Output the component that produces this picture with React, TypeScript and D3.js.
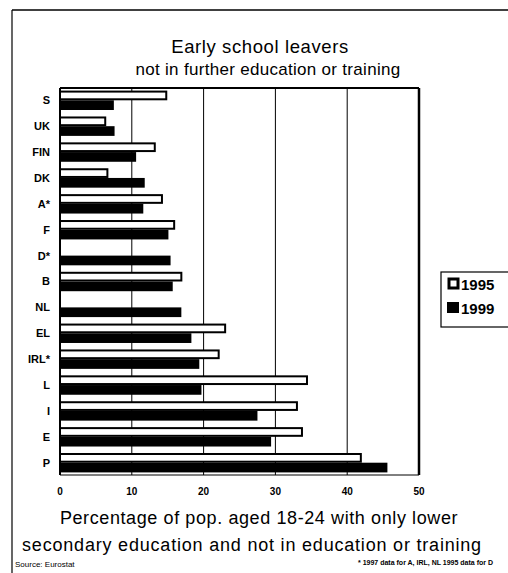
import React from 'react';
import * as d3 from 'd3';

// data (top to bottom)
const categories = ['S', 'UK', 'FIN', 'DK', 'A*', 'F', 'D*', 'B', 'NL', 'EL', 'IRL*', 'L', 'I', 'E', 'P'];
const values1995 = [14.8, 6.3, 13.2, 6.6, 14.2, 15.9, null, 16.9, null, 23.0, 22.1, 34.4, 33.0, 33.7, 41.9];
const values1999 = [7.5, 7.6, 10.6, 11.8, 11.6, 15.1, 15.4, 15.7, 16.9, 18.3, 19.4, 19.7, 27.5, 29.4, 45.6];
const series = ['1995', '1999'];
const xTicks = [0, 10, 20, 30, 40, 50];

const font = '"Liberation Sans", Arial, sans-serif';

const App = () => {
    const left = 60;
    const right = 419;
    const top = 88;
    const bottom = 475;

    const x = d3.scaleLinear().domain([0, 50]).range([left, right]);
    const y = d3.scaleBand<string>()
        .domain(categories)
        .range([top, bottom])
        .paddingInner(0.25)
        .paddingOuter(0.1);
    const ySub = d3.scaleBand<string>()
        .domain(series)
        .range([0, y.bandwidth()]);

    const rows = categories.map((c, i) => ({ c, v: [values1995[i], values1999[i]] }));

    return (
        <svg width={508} height={573} style={{ position: 'absolute', left: 0, top: 0, background: '#fff' }}
            fontFamily={font}>
            {/* outer page frame */}
            <line x1={12} y1={10} x2={508} y2={10} stroke="#000" strokeWidth={1.5} />
            <line x1={12} y1={10} x2={12} y2={573} stroke="#000" strokeWidth={1.2} />

            <text x={260} y={53} textAnchor="middle" fontSize={18.5} letterSpacing={0.6}>Early school leavers</text>
            <text x={268} y={75} textAnchor="middle" fontSize={17} letterSpacing={0.3}>not in further education or training</text>

            {/* gridlines */}
            {xTicks.slice(1, -1).map(t => (
                <line key={t} x1={x(t)} x2={x(t)} y1={top} y2={bottom} stroke="#000" strokeWidth={1} />
            ))}

            {/* bars */}
            {rows.map(r => (
                <g key={r.c} transform={`translate(0,${y(r.c)})`}>
                    {r.v.map((v, j) => v == null ? null : (
                        j === 0 ? (
                            <rect key={j} x={x(0)} y={ySub(series[j])! + 1} width={x(v) - x(0)}
                                height={ySub.bandwidth() - 2} fill="#fff" stroke="#000" strokeWidth={2} />
                        ) : (
                            <rect key={j} x={x(0)} y={ySub(series[j])!} width={x(v) - x(0)}
                                height={ySub.bandwidth()} fill="#000" />
                        )
                    ))}
                    <text x={50} y={y.bandwidth() / 2 + 4} textAnchor="end" fontSize={11} fontWeight="bold">{r.c}</text>
                </g>
            ))}

            {/* plot frame */}
            <line x1={left} x2={right} y1={top} y2={top} stroke="#000" strokeWidth={2} />
            <line x1={right} x2={right} y1={top} y2={bottom} stroke="#000" strokeWidth={2.5} />
            <line x1={left} x2={right} y1={bottom} y2={bottom} stroke="#000" strokeWidth={1} />
            <line x1={left} x2={left} y1={top} y2={bottom} stroke="#000" strokeWidth={2} />

            {xTicks.map(t => (
                <text key={t} x={x(t)} y={495} textAnchor="middle" fontSize={10} fontWeight="bold">{t}</text>
            ))}

            <text x={259} y={524} textAnchor="middle" fontSize={18} letterSpacing={0.6}>Percentage of pop. aged 18-24 with only lower</text>
            <text x={252} y={551} textAnchor="middle" fontSize={18} letterSpacing={0.8}>secondary education and not in education or training</text>

            <text x={15} y={567} fontSize={8}>Source: Eurostat</text>
            <text x={493} y={565} textAnchor="end" fontSize={7} fontWeight="bold">* 1997 data for A, IRL, NL 1995 data for D</text>

            {/* legend */}
            <rect x={441} y={272} width={70} height={55} fill="#fff" stroke="#000" strokeWidth={1.2} />
            <rect x={449} y={279} width={9} height={9} fill="#fff" stroke="#000" strokeWidth={3} />
            <text x={461} y={290} fontSize={15} fontWeight="bold">{series[0]}</text>
            <rect x={447} y={302} width={12} height={11} fill="#000" />
            <text x={461} y={314} fontSize={15} fontWeight="bold">{series[1]}</text>
        </svg>
    );
};

export default App;
